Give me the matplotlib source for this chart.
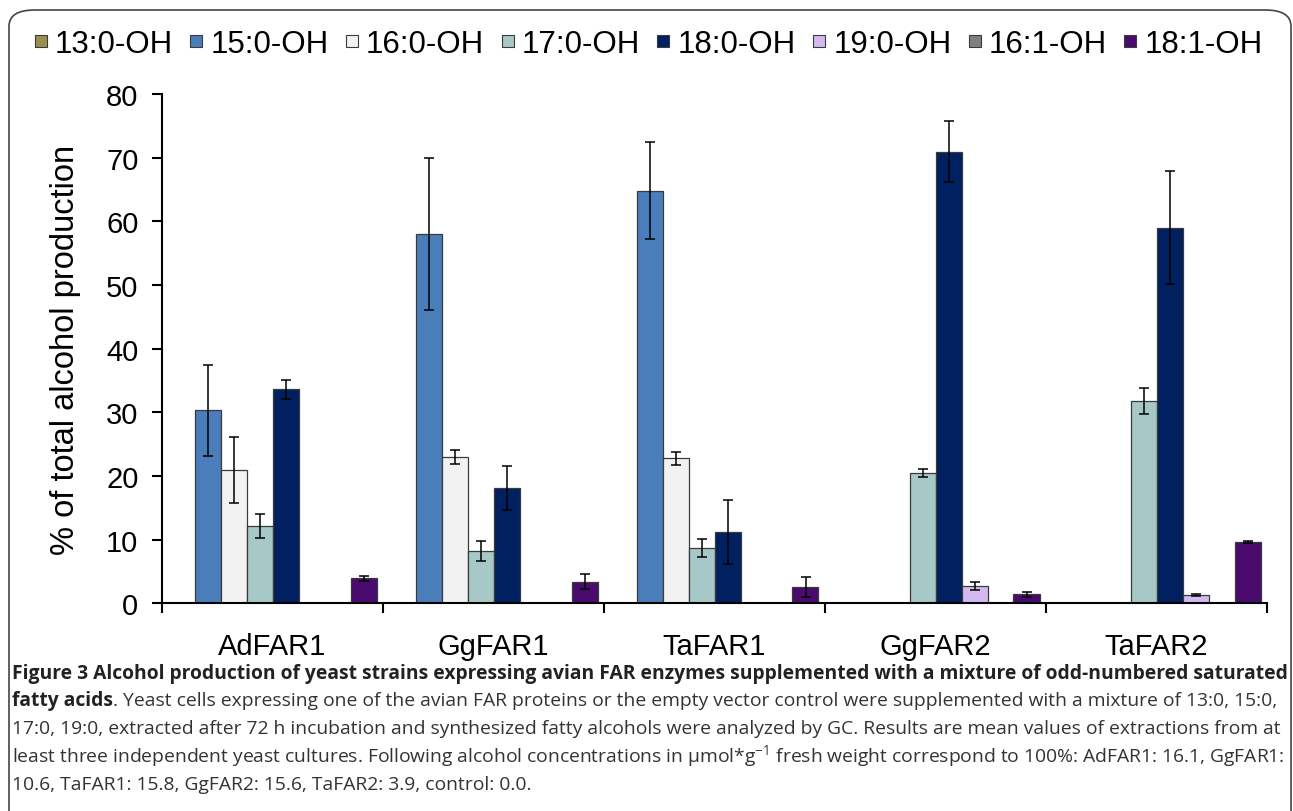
import numpy as np
import matplotlib
matplotlib.use("Agg")
import matplotlib.pyplot as plt
from matplotlib.lines import Line2D
from matplotlib.patches import FancyBboxPatch

strains = ["AdFAR1", "GgFAR1", "TaFAR1", "GgFAR2", "TaFAR2"]
series = ["13:0-OH", "15:0-OH", "16:0-OH", "17:0-OH", "18:0-OH", "19:0-OH", "16:1-OH", "18:1-OH"]
colors = ["#9C8F4E", "#4A7EBB", "#F2F2F2", "#A6C8C6", "#002060", "#D4B9F0", "#808080", "#4B0A6E"]

# % of total alcohol production, one list per alcohol (across strains)
c13 = [0, 0, 0, 0, 0]
c15 = [30.3, 58.0, 64.8, 0, 0]
c16 = [21.0, 23.0, 22.8, 0, 0]
c17 = [12.1, 8.2, 8.7, 20.5, 31.8]
c18 = [33.6, 18.1, 11.2, 70.9, 59.0]
c19 = [0, 0, 0, 2.7, 1.3]
c161 = [0, 0, 0, 0, 0]
c181 = [3.9, 3.4, 2.6, 1.4, 9.6]

e13 = [0, 0, 0, 0, 0]
e15 = [7.2, 12.0, 7.6, 0, 0]
e16 = [5.2, 1.1, 1.0, 0, 0]
e17 = [1.9, 1.6, 1.4, 0.6, 2.0]
e18 = [1.5, 3.5, 5.1, 4.8, 8.9]
e19 = [0, 0, 0, 0.6, 0.2]
e161 = [0, 0, 0, 0, 0]
e181 = [0.35, 1.2, 1.6, 0.4, 0.2]

values = [c13, c15, c16, c17, c18, c19, c161, c181]
errors = [e13, e15, e16, e17, e18, e19, e161, e181]

plt.rcParams["font.family"] = ["Liberation Sans", "DejaVu Sans"]
plt.rcParams["mathtext.fontset"] = "custom"
plt.rcParams["mathtext.rm"] = "Open Sans"

W, H = 1293, 812
fig = plt.figure(figsize=(W / 100, H / 100), dpi=100)
ax = fig.add_axes([162 / W, 1 - 604.3 / H, 1105 / W, 509.3 / H])

x = np.arange(len(strains))
w = 1 / 8.5
for j, (vals, errs, col) in enumerate(zip(values, errors, colors)):
    pos = x + (j - 3.5) * w
    ax.bar(pos, vals, width=w, color=col, edgecolor="#3a3a3a", linewidth=0.9, zorder=2)
    vals = np.array(vals, dtype=float)
    errs = np.array(errs, dtype=float)
    m = vals > 0
    ax.errorbar(pos[m], vals[m], yerr=errs[m], fmt="none", ecolor="black",
                elinewidth=1.1, capsize=3.8, capthick=1.1, zorder=3)

ax.set_xlim(-0.5, len(strains) - 0.5)
ax.set_ylim(0, 80)
ax.set_yticks(np.arange(0, 81, 10))
ax.set_xticks(x)
ax.set_xticklabels(strains)
ax.set_xticks(np.arange(-0.5, len(strains)), minor=True)
ax.tick_params(axis="x", which="major", length=0, pad=21, labelsize=21)
ax.tick_params(axis="x", which="minor", length=7, width=1.5, direction="out")
ax.tick_params(axis="y", length=7, width=1.5, direction="out", pad=10, labelsize=21)
for s in ["top", "right"]:
    ax.spines[s].set_visible(False)
for s in ["left", "bottom"]:
    ax.spines[s].set_linewidth(1.5)
ax.set_ylabel("% of total alcohol production", fontsize=23.5, labelpad=18)

handles = [Line2D([], [], marker="s", linestyle="none", markersize=8.5,
                  markerfacecolor=c, markeredgecolor="#3a3a3a", markeredgewidth=0.8)
           for c in colors]
fig.legend(handles, series, loc="center left", bbox_to_anchor=(33 / W, 1 - 45 / H),
           ncol=8, frameon=False, fontsize=22.5, handlelength=0.5, handletextpad=0.2,
           columnspacing=0.5, borderpad=0, borderaxespad=0)

# outer rounded frame
frame = FancyBboxPatch((9 / W, -0.02), 1282 / W, (812 - 11) / H + 0.02,
                       boxstyle="round,pad=0,rounding_size=0.02",
                       transform=fig.transFigure, fill=False, edgecolor="#444444",
                       linewidth=1.2)
fig.patches.append(frame)

# caption
cap_font = "Open Sans"
fs = 13.9
tx = 12 / W
fig.text(tx, 1 - 674 / H, "Figure 3 Alcohol production of yeast strains expressing avian FAR enzymes "
         "supplemented with a mixture of odd-numbered saturated",
         fontsize=fs, fontweight="bold", family=cap_font, color="#222222", va="center")
r = fig.canvas.get_renderer()
b = fig.text(tx, 1 - 701 / H, "fatty acids", fontsize=fs, fontweight="bold",
             family=cap_font, color="#222222", va="center")
bx = b.get_window_extent(r).x1 / W
fig.text(bx, 1 - 701 / H, ". Yeast cells expressing one of the avian FAR proteins or the empty vector "
         "control were supplemented with a mixture of 13:0, 15:0,",
         fontsize=fs, family=cap_font, color="#333333", va="center")
lines = [
    "17:0, 19:0, extracted after 72 h incubation and synthesized fatty alcohols were analyzed "
    "by GC. Results are mean values of extractions from at",
    "least three independent yeast cultures. Following alcohol concentrations in µmol*g$^{-1}$ "
    "fresh weight correspond to 100%: AdFAR1: 16.1, GgFAR1:",
    "10.6, TaFAR1: 15.8, GgFAR2: 15.6, TaFAR2: 3.9, control: 0.0.",
]
for k, t in enumerate(lines):
    fig.text(tx, 1 - (729 + 28 * k) / H, t, fontsize=fs, family=cap_font,
             color="#333333", va="center")

fig.savefig("out.png", dpi=100)
